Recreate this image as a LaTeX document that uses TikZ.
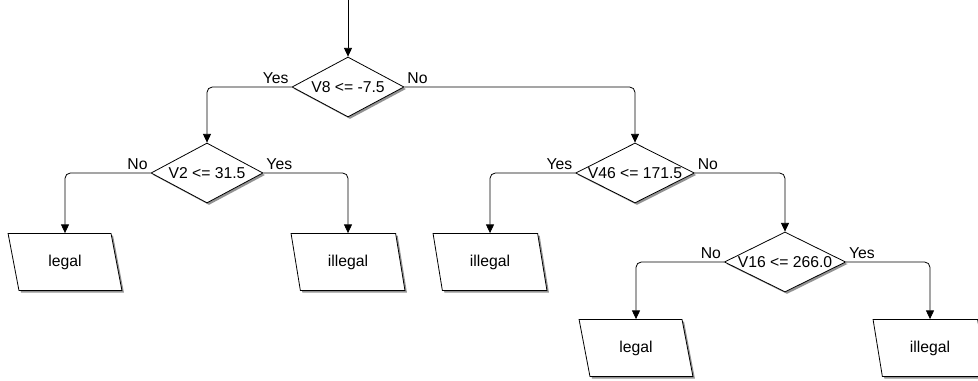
\documentclass[tikz,border=0pt]{standalone}
\usepackage{fontspec}
\setmainfont{Liberation Sans}
\usetikzlibrary{shapes.geometric,shadows,arrows.meta}

\begin{document}
\begin{tikzpicture}
  [x=0.75pt,y=-0.75pt,line width=0.6pt,
   font=\fontsize{11.8}{14}\selectfont,
   shade/.style={drop shadow={shadow xshift=1.5pt,shadow yshift=-1.5pt,fill=gray!85,opacity=1}},
   test/.style={diamond,draw,fill=white,inner sep=0pt,shape aspect=2,
                minimum width=84pt,minimum height=45pt,shade},
   leaf/.style={trapezium,trapezium left angle=105,trapezium right angle=75,
                trapezium stretches=true,draw,fill=white,inner sep=0pt,
                minimum width=85.5pt,minimum height=42.75pt,shade},
   branch/.style={rounded corners=4pt,-{Triangle[length=6.5pt,width=6pt]}},
   answer/.style={inner sep=2pt}]
  \useasboundingbox (0,0) rectangle (978,381);
  \coordinate (start) at (348,0);
  % tests
  \node[test] (v8) at (348,87) {V8 <= -7.5};
  \node[test] (v2) at (207,173) {V2 <= 31.5};
  \node[test,minimum width=89pt] (v46) at (635,173) {V46 <= 171.5};
  \node[test,minimum width=91pt] (v16) at (785,262) {V16 <= 266.0};
  % leaves
  \node[leaf] (l1) at (65,262) {legal};
  \node[leaf] (l2) at (348,262) {illegal};
  \node[leaf] (l3) at (490,262) {illegal};
  \node[leaf] (l4) at (636,348) {legal};
  \node[leaf] (l5) at (930,348) {illegal};
  % connectors
  \draw[branch] (start) -- (v8.north);
  \draw[branch] (v8.west) node[answer,above left] {Yes} -| (v2.north);
  \draw[branch] (v8.east) node[answer,above right] {No} -| (v46.north);
  \draw[branch] (v2.west) node[answer,above left] {No} -| (l1.north);
  \draw[branch] (v2.east) node[answer,above right] {Yes} -| (l2.north);
  \draw[branch] (v46.west) node[answer,above left] {Yes} -| (l3.north);
  \draw[branch] (v46.east) node[answer,above right] {No} -| (v16.north);
  \draw[branch] (v16.west) node[answer,above left] {No} -| (l4.north);
  \draw[branch] (v16.east) node[answer,above right] {Yes} -| (l5.north);
\end{tikzpicture}
\end{document}
